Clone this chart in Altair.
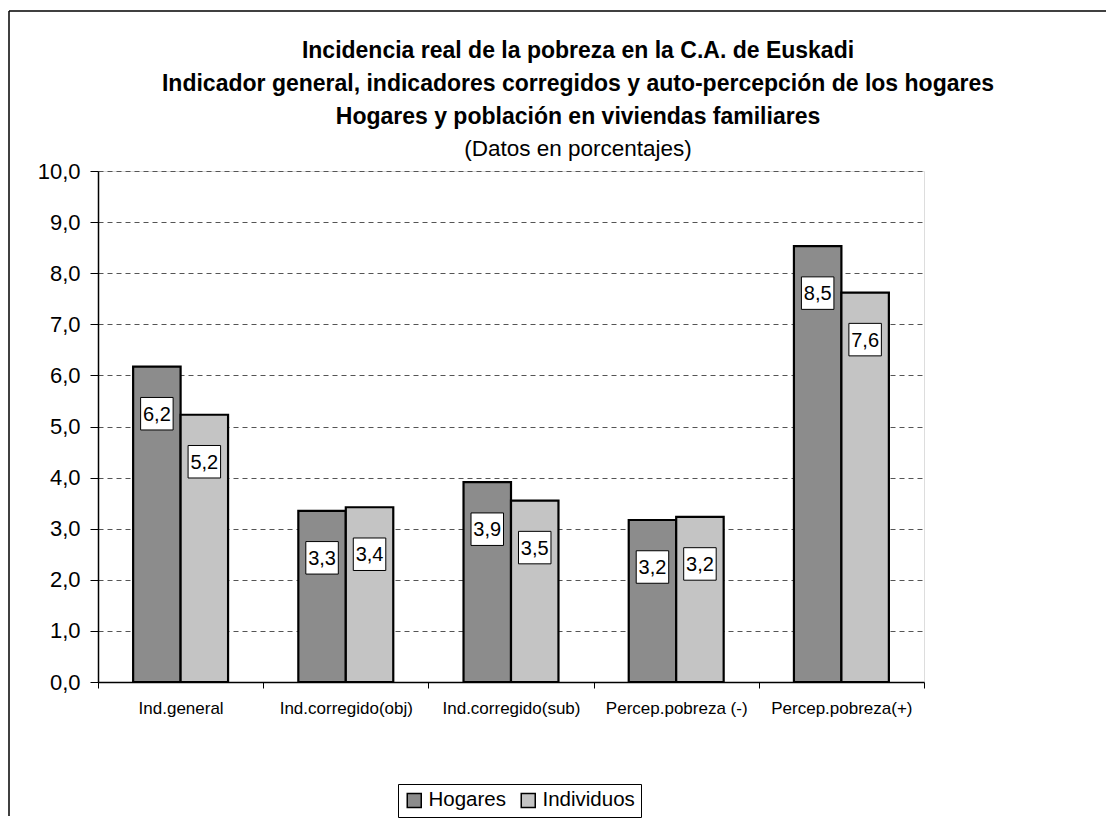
import altair as alt
import pandas as pd

categories = ["Ind.general", "Ind.corregido(obj)", "Ind.corregido(sub)", "Percep.pobreza (-)", "Percep.pobreza(+)"]
series = ["Hogares", "Individuos"]
hogares = [6.17, 3.35, 3.91, 3.17, 8.53]
individuos = [5.23, 3.42, 3.55, 3.23, 7.62]
hogares_lbl = ["6,2", "3,3", "3,9", "3,2", "8,5"]
individuos_lbl = ["5,2", "3,4", "3,5", "3,2", "7,6"]
title_lines = [
    "Incidencia real de la pobreza en la C.A. de Euskadi",
    "Indicador general, indicadores corregidos y auto-percepción de los hogares",
    "Hogares y población en viviendas familiares",
]
subtitle = "(Datos en porcentajes)"

rows = []
for i, c in enumerate(categories):
    rows.append({"cat": c, "series": "Hogares", "value": hogares[i], "label": hogares_lbl[i]})
    rows.append({"cat": c, "series": "Individuos", "value": individuos[i], "label": individuos_lbl[i]})
df = pd.DataFrame(rows)

FONT = "Liberation Sans"
W, H = 826, 511

x = alt.X("cat:N", sort=categories,
          scale=alt.Scale(paddingInner=0, paddingOuter=0),
          axis=alt.Axis(title=None, labelAngle=0, tickBand="extent", labelFontSize=17,
                        labelFont=FONT, labelColor="black", tickSize=6, tickColor="black",
                        domainColor="black", domainWidth=1.5, labelPadding=12, grid=False))
xo = alt.XOffset("series:N", sort=series, scale=alt.Scale(paddingInner=0, paddingOuter=0.74))
y = alt.Y("value:Q", scale=alt.Scale(domain=[0, 10], nice=False),
          axis=alt.Axis(title=None, values=list(range(11)),
                        labelExpr="replace(format(datum.value, '.1f'), '.', ',')",
                        labelFontSize=22, labelFont=FONT, labelColor="black",
                        tickSize=8, tickColor="black", domainColor="black", domainWidth=1.5,
                        labelPadding=10, grid=True, gridColor="#555555", gridDash=[5, 4],
                        gridWidth=1))

base = alt.Chart(df)

bars = base.mark_bar(stroke="black", strokeWidth=2.2).encode(
    x=x, xOffset=xo, y=y,
    fill=alt.Fill("series:N", sort=series,
                  scale=alt.Scale(domain=series, range=["#8c8c8c", "#c4c4c4"]),
                  legend=alt.Legend(title=None, orient="none", legendX=300, legendY=613,
                                    direction="horizontal", strokeColor="black", fillColor="white",
                                    padding=6, labelFontSize=20.5, labelFont=FONT, labelColor="black",
                                    symbolType="square", symbolSize=196, symbolStrokeColor="black",
                                    symbolStrokeWidth=1.5, columnPadding=12, labelOffset=4)),
)

boxes = base.mark_square(size=1056, color="white", stroke="black", strokeWidth=1,
                         opacity=1, yOffset=47).encode(x=x, xOffset=xo, y=y)
texts = base.mark_text(fontSize=20, font=FONT, color="black", baseline="middle",
                       yOffset=48).encode(x=x, xOffset=xo, y=y, text="label:N")

title_layers = []
for k, t in enumerate(title_lines):
    title_layers.append(
        alt.Chart(pd.DataFrame({"t": [t]})).mark_text(
            fontSize=23, font=FONT, fontWeight="bold", color="black", baseline="middle", align="center"
        ).encode(x=alt.value(480), y=alt.value(-120 + 33 * k), text="t:N")
    )
title_layers.append(
    alt.Chart(pd.DataFrame({"t": [subtitle]})).mark_text(
        fontSize=22.5, font=FONT, color="black", baseline="middle", align="center"
    ).encode(x=alt.value(480), y=alt.value(-22), text="t:N")
)

frame_left = alt.Chart(pd.DataFrame({"a": [0]})).mark_rule(color="black", strokeWidth=1.5).encode(
    x=alt.value(-89), y=alt.value(-160), y2=alt.value(645))
frame_top = alt.Chart(pd.DataFrame({"a": [0]})).mark_rule(color="black", strokeWidth=1.5).encode(
    x=alt.value(-89), x2=alt.value(1008), y=alt.value(-160))

chart = alt.layer(frame_left, frame_top, bars, boxes, texts, *title_layers).properties(
    width=W, height=H, padding={"left": 0, "top": 2, "right": 0, "bottom": 0}
).configure_view(stroke="#555555", strokeDash=[5, 4], strokeWidth=1.5).configure(
    font=FONT
)

chart.save("out.html", embed_options={"renderer": "svg", "actions": False})
